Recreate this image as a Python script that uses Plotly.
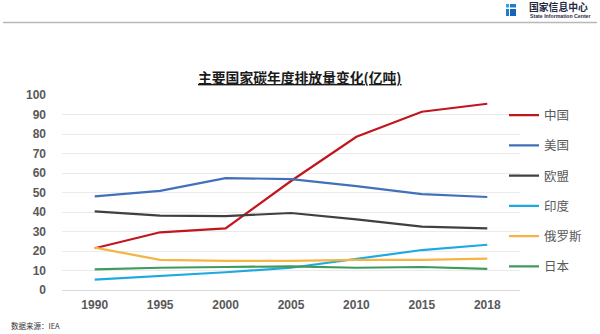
import plotly.graph_objects as go

years = ["1990", "1995", "2000", "2005", "2010", "2015", "2018"]
china = [21.4, 29.6, 31.6, 55.9, 78.6, 91.4, 95.5]
usa = [48.0, 50.8, 57.4, 56.9, 53.3, 49.2, 47.7]
eu = [40.3, 38.1, 37.9, 39.5, 36.2, 32.5, 31.6]
india = [5.3, 7.2, 9.1, 11.4, 15.9, 20.5, 23.2]
russia = [21.7, 15.5, 14.9, 14.9, 15.4, 15.5, 16.1]
japan = [10.6, 11.4, 11.8, 12.1, 11.4, 11.8, 10.8]

names = ["中国", "美国", "欧盟", "印度", "俄罗斯", "日本"]
series = [china, usa, eu, india, russia, japan]
colors = ["#C0161E", "#4270BA", "#404040", "#1EA9E1", "#F5B446", "#3F9A5C"]

title_text = "主要国家碳年度排放量变化(亿吨)"
source_text = "数据来源：IEA"
logo_cn = "国家信息中心"
logo_en = "State Information Center"

FONT = "Noto Sans CJK SC, Noto Sans, sans-serif"
TICKFONT = "Liberation Sans, Arial, sans-serif"

# plot area in pixels (for placing decorative header items in paper coords)
L, R, T, B, W, H = 62, 80, 95, 44, 600, 334
PW, PH = W - L - R, H - T - B


def px(x):
    return (x - L) / PW


def py(y):
    return (H - B - y) / PH


fig = go.Figure()
for i, (n, s, c) in enumerate(zip(names, series, colors)):
    fig.add_trace(go.Scatter(
        x=years, y=s, name=n, mode="lines",
        line=dict(color=c, width=2.2),
        legendgroup=str(i),
    ))

fig.update_layout(
    width=W, height=H,
    margin=dict(l=L, r=R, t=T, b=B),
    paper_bgcolor="white", plot_bgcolor="white",
    font=dict(family=FONT),
    showlegend=True,
    legend=dict(
        x=px(504), xanchor="left", y=py(100.5), yanchor="top",
        traceorder="grouped", tracegroupgap=11.0,
        itemwidth=30,
        font=dict(size=12.5, color="#595959", family=FONT),
        bgcolor="rgba(0,0,0,0)",
    ),
    xaxis=dict(
        type="category", range=[-0.5, 6.5],
        showgrid=False, showline=True, linecolor="#D9D9D9", linewidth=1,
        ticks="", ticklabelstandoff=4,
        tickfont=dict(size=12, color="#595959", family=TICKFONT, weight="bold"),
        fixedrange=True,
    ),
    yaxis=dict(
        range=[0, 100], dtick=10, tick0=0,
        showgrid=True, gridcolor="#EBEBEB", gridwidth=1,
        zeroline=False, showline=False, ticks="",
        ticklen=0, ticklabelstandoff=15,
        tickfont=dict(size=12, color="#595959", family=TICKFONT, weight="bold"),
        fixedrange=True,
    ),
)

# Title
fig.add_annotation(
    text="<b><u>" + title_text + "</u></b>",
    xref="paper", yref="paper", x=px(300), y=py(77),
    xanchor="center", yanchor="middle", showarrow=False,
    font=dict(size=13.8, color="#1a1a1a", family=FONT),
)

# Source
fig.add_annotation(
    text=source_text, xref="paper", yref="paper",
    x=px(9), y=py(325), xanchor="left", yanchor="middle",
    showarrow=False, font=dict(size=7.5, color="#333333", family=FONT),
)

# Logo icon (decorative)
for (x0, x1, y0, y1, col) in [
    (506, 509, 4, 7.5, "#2BA3DF"),
    (510, 516, 4, 7.5, "#1E7BD0"),
    (506, 509, 9, 16, "#1E7BD0"),
    (510, 516, 9, 16, "#1565B8"),
]:
    fig.add_shape(type="rect", xref="paper", yref="paper",
                  x0=px(x0), x1=px(x1), y0=py(y1), y1=py(y0),
                  fillcolor=col, line=dict(width=0))

# Header separator line (decorative)
fig.add_shape(type="line", xref="paper", yref="paper",
              x0=px(3), x1=px(597), y0=py(22.5), y1=py(22.5),
              line=dict(color="#B8B8B8", width=1.3))

fig.add_annotation(
    text="<b>" + logo_cn + "</b>", xref="paper", yref="paper",
    x=px(527), y=py(6.5), xanchor="left", yanchor="middle",
    showarrow=False, font=dict(size=9.8, color="#1f2a44", family="Noto Sans CJK SC"),
)
fig.add_annotation(
    text="<b>" + logo_en + "</b>", xref="paper", yref="paper",
    x=px(528), y=py(16.2), xanchor="left", yanchor="middle",
    showarrow=False, font=dict(size=5.2, color="#1f2a44", family="Liberation Sans"),
)

fig.write_html("out.html")
